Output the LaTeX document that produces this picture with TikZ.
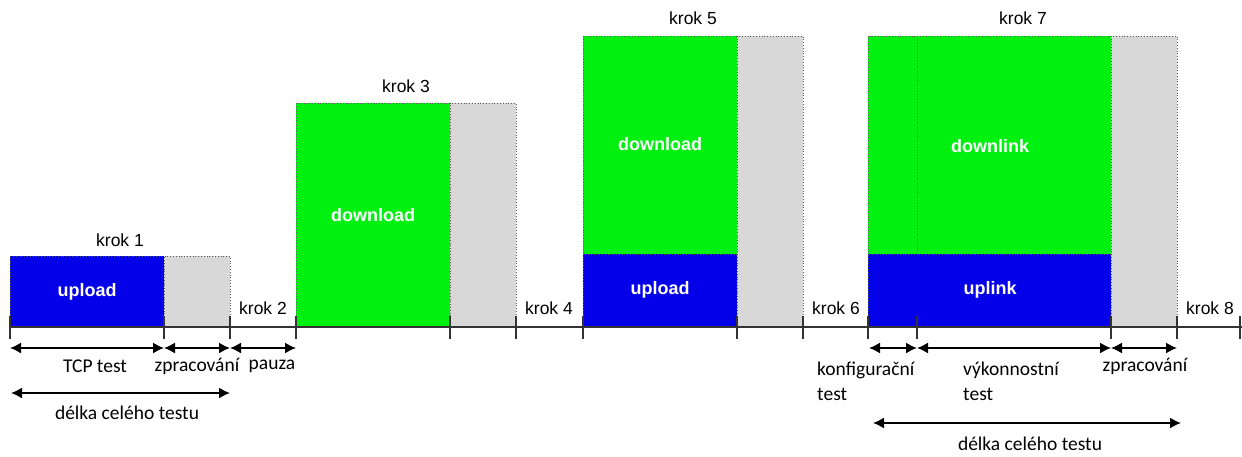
\documentclass[tikz,border=0pt]{standalone}
\usepackage{fontspec}
\setmainfont{Liberation Sans}
\newfontfamily\calib{Carlito}
\usetikzlibrary{arrows.meta}

\definecolor{upblue}{RGB}{4,0,232}
\definecolor{dngreen}{RGB}{0,240,16}
\definecolor{procgrey}{RGB}{216,216,216}

\begin{document}
\begin{tikzpicture}[x=1pt,y=-1pt,
  blk/.style={draw=black!65, dotted, line width=0.8pt, inner sep=0pt, outer sep=0pt, anchor=north west},
  upbox/.style={blk, fill=upblue},
  dnbox/.style={blk, fill=dngreen},
  prbox/.style={blk, fill=procgrey},
  boxlbl/.style={text=white, font=\fontsize{18}{20}\selectfont\bfseries},
  steplbl/.style={font=\fontsize{17.5}{20}\selectfont},
  spanlbl/.style={font=\calib\fontsize{19.5}{25}\selectfont, inner sep=0pt},
  tickmark/.style={line width=1.7pt, black!80},
  span/.style={line width=1.6pt, {Latex[length=11pt,width=11pt]}-{Latex[length=11pt,width=11pt]}}
]
\useasboundingbox (0,0) rectangle (1242,456);

% --- step 1: upload + processing
\node[upbox, minimum width=154pt, minimum height=71pt] (up1) at (10,256) {};
\node[prbox, minimum width=66pt, minimum height=71pt] (pr1) at (164,256) {};
% --- step 3: download + processing
\node[dnbox, minimum width=154pt, minimum height=224pt] (dn3) at (296,103) {};
\node[prbox, minimum width=66pt, minimum height=224pt] (pr3) at (450,103) {};
% --- step 5: download over upload + processing
\node[dnbox, minimum width=154pt, minimum height=218pt] (dn5) at (583,36) {};
\node[upbox, minimum width=154pt, minimum height=73pt] (up5) at (583,254) {};
\node[prbox, minimum width=66pt, minimum height=291pt] (pr5) at (737,36) {};
% --- step 7: configuration + performance test, downlink over uplink
\node[dnbox, minimum width=49pt, minimum height=218pt] (cf7) at (868,36) {};
\node[dnbox, minimum width=194pt, minimum height=218pt] (dn7) at (917,36) {};
\node[upbox, minimum width=243pt, minimum height=73pt] (up7) at (868,254) {};
\node[prbox, minimum width=66pt, minimum height=291pt] (pr7) at (1111,36) {};

% box captions
\node[boxlbl] (lup1) at (87,292) {upload};
\node[boxlbl] (ldn3) at (373,215) {download};
\node[boxlbl] (ldn5) at (660,144) {download};
\node[boxlbl] (lup5) at (660,290) {upload};
\node[boxlbl] (ldn7) at (990,146) {downlink};
\node[boxlbl] (lup7) at (990,290) {uplink};

% step labels
\node[steplbl] (k1) at (120,240) {krok 1};
\node[steplbl] (k2) at (263,308) {krok 2};
\node[steplbl] (k3) at (406,86) {krok 3};
\node[steplbl] (k4) at (549,308) {krok 4};
\node[steplbl] (k5) at (693,18) {krok 5};
\node[steplbl] (k6) at (836,308) {krok 6};
\node[steplbl] (k7) at (1023,18) {krok 7};
\node[steplbl] (k8) at (1210,308) {krok 8};

% time axis with tick marks
\coordinate (axL) at (10,327);
\coordinate (axR) at (1242,327);
\foreach \t/\n in {10/a,164/b,230/c,296/d,450/e,516/f,583/g,737/h,803/i,868/j,917/k,1111/l,1177/m,1240/n}{
  \coordinate (tt\n) at (\t,316);
  \coordinate (tb\n) at (\t,339);
  \draw[tickmark] (tt\n) -- (tb\n);
}
\draw[line width=1.3pt, black!80] (axL) -- (axR);

% duration arrows, left
\coordinate (s1a) at (10,348);
\coordinate (s1b) at (164,348);
\coordinate (s1c) at (230,348);
\coordinate (s1d) at (296,348);
\draw[span] (s1a) -- (s1b);
\draw[span] (s1b) -- (s1c);
\draw[span] (s1c) -- (s1d);
\coordinate (t1a) at (11,393);
\coordinate (t1b) at (230,393);
\draw[span] (t1a) -- (t1b);

\node[spanlbl] (lt1) at (95,366) {TCP test};
\node[spanlbl] (lz1) at (197,366) {zpracování};
\node[spanlbl] (lp1) at (272,366) {pauza};
\node[spanlbl] (ld1) at (127,413) {délka celého testu};

% duration arrows, right
\coordinate (s7a) at (869,348);
\coordinate (s7b) at (917,348);
\coordinate (s7c) at (1111,348);
\coordinate (s7d) at (1177,348);
\draw[span] (s7a) -- (s7b);
\draw[span] (s7b) -- (s7c);
\draw[span] (s7c) -- (s7d);
\coordinate (t7a) at (873,423);
\coordinate (t7b) at (1181,423);
\draw[span] (t7a) -- (t7b);

\node[spanlbl, align=left, anchor=west] (lc7) at (817,381) {konfigurační\\test};
\node[spanlbl, align=left, anchor=west] (lv7) at (963,381) {výkonnostní\\test};
\node[spanlbl] (lz7) at (1145,366) {zpracování};
\node[spanlbl] (ld7) at (1030,444) {délka celého testu};
\end{tikzpicture}
\end{document}
